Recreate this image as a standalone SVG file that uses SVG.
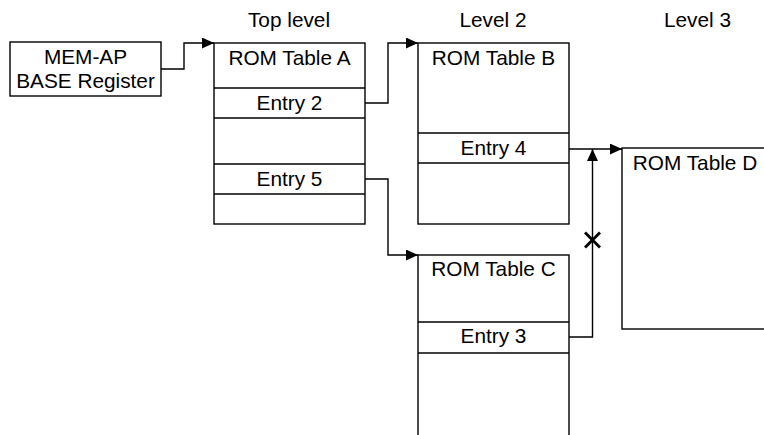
<svg xmlns="http://www.w3.org/2000/svg" width="764" height="435" viewBox="0 0 764 435">
<style>
  text { font-family: "Liberation Sans", Arial, sans-serif; font-size: 20.8px; fill: #000; }
  .c { text-anchor: middle; }
  .box { fill: #fff; stroke: #000; stroke-width: 1.4; }
  .row { stroke: #000; stroke-width: 1.4; }
  .conn { fill: none; stroke: #000; stroke-width: 1.4; }
  .x { stroke: #000; stroke-width: 2.8; }
</style>
<defs>
  <marker id="ah" markerWidth="12" markerHeight="11" refX="12" refY="5.5" orient="auto" markerUnits="userSpaceOnUse">
    <path d="M0,0 L12,5.5 L0,11 Z" fill="#000"/>
  </marker>
</defs>
<rect width="764" height="435" fill="#fff"/>

<g id="level-labels">
  <text class="c" x="289" y="27">Top level</text>
  <text class="c" x="493" y="27">Level 2</text>
  <text class="c" x="697.5" y="27">Level 3</text>
</g>

<g id="mem-ap">
  <rect class="box" x="10" y="42" width="151" height="54"/>
  <text class="c" x="85.5" y="64">MEM-AP</text>
  <text class="c" x="85.5" y="88">BASE Register</text>
</g>

<g id="rom-table-a">
  <rect class="box" x="214" y="43" width="151" height="181"/>
  <line class="row" x1="214" y1="88" x2="365" y2="88"/>
  <line class="row" x1="214" y1="118" x2="365" y2="118"/>
  <line class="row" x1="214" y1="164" x2="365" y2="164"/>
  <line class="row" x1="214" y1="194" x2="365" y2="194"/>
  <text class="c" x="289.5" y="65">ROM Table A</text>
  <text class="c" x="289.5" y="110">Entry 2</text>
  <text class="c" x="289.5" y="186">Entry 5</text>
</g>

<g id="rom-table-b">
  <rect class="box" x="418" y="43" width="151" height="181"/>
  <line class="row" x1="418" y1="133" x2="569" y2="133"/>
  <line class="row" x1="418" y1="163" x2="569" y2="163"/>
  <text class="c" x="493.5" y="65">ROM Table B</text>
  <text class="c" x="493.5" y="155">Entry 4</text>
</g>

<g id="rom-table-c">
  <rect class="box" x="418" y="255" width="151" height="190"/>
  <line class="row" x1="418" y1="322" x2="569" y2="322"/>
  <line class="row" x1="418" y1="353" x2="569" y2="353"/>
  <text class="c" x="493.5" y="276">ROM Table C</text>
  <text class="c" x="493.5" y="343">Entry 3</text>
</g>

<g id="rom-table-d">
  <rect class="box" x="622" y="148" width="160" height="181"/>
  <text class="c" x="695" y="170">ROM Table D</text>
</g>

<g id="connectors">
  <path class="conn" d="M161,69 H184 V43 H214" marker-end="url(#ah)"/>
  <path class="conn" d="M365,103 H388 V43 H418" marker-end="url(#ah)"/>
  <path class="conn" d="M365,179 H388 V255 H418" marker-end="url(#ah)"/>
  <path class="conn" d="M569,149 H622" marker-end="url(#ah)"/>
  <path class="conn" d="M569,337 H592.5 V149" marker-end="url(#ah)"/>
  <g id="broken-link-mark">
    <line class="x" x1="585" y1="232.5" x2="600" y2="247.5"/>
    <line class="x" x1="600" y1="232.5" x2="585" y2="247.5"/>
  </g>
</g>
</svg>
